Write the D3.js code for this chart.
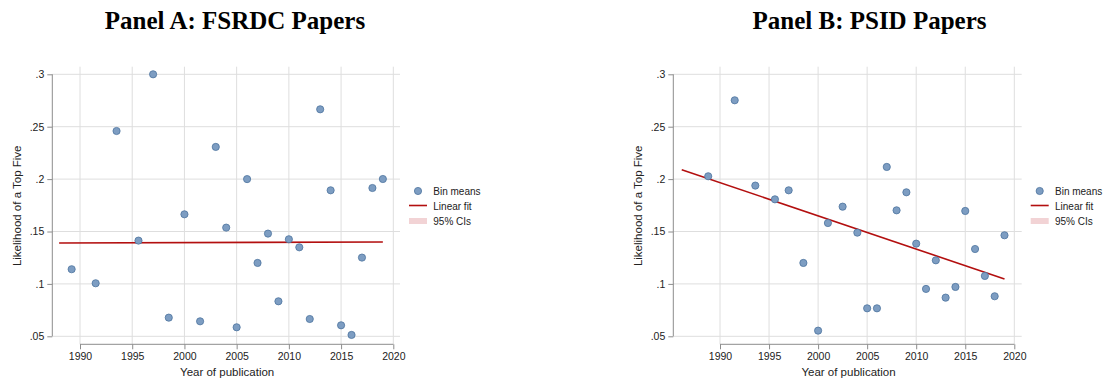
<!DOCTYPE html>
<html>
<head>
<meta charset="utf-8">
<script src="https://cdn.jsdelivr.net/npm/d3@7"></script>
<style>
  html, body { margin: 0; padding: 0; background: #fff; }
  svg { display: block; }
</style>
</head>
<body>
<svg id="chart" width="1104" height="380"></svg>
<script>
// Binned scatter of top-five publication likelihood by year, two panels.
const yearTicks = [1990, 1995, 2000, 2005, 2010, 2015, 2020];
const valueTicks = [0.05, 0.10, 0.15, 0.20, 0.25, 0.30];
const valueTickLabels = [".05", ".1", ".15", ".2", ".25", ".3"];

// Panel A: FSRDC papers
const yearsA = [1989.2, 1991.5, 1993.5, 1995.6, 1997.0, 1998.5, 2000.0, 2001.5, 2003.0, 2004.0,
                2005.0, 2006.0, 2007.0, 2008.0, 2009.0, 2010.0, 2011.0, 2012.0, 2013.0, 2014.0,
                2015.0, 2016.0, 2017.0, 2018.0, 2019.0];
const meansA = [0.114, 0.1006, 0.2459, 0.1413, 0.300, 0.0678, 0.1664, 0.0643, 0.2307, 0.1537,
                0.0586, 0.2000, 0.1200, 0.1480, 0.0834, 0.1426, 0.1349, 0.0665, 0.2666, 0.1893,
                0.0605, 0.0513, 0.1251, 0.1915, 0.2001];
const fitYearsA = [1988.0, 2019.0];
const fitValuesA = [0.1390, 0.1400];

// Panel B: PSID papers
const yearsB = [1988.8, 1991.5, 1993.6, 1995.6, 1997.0, 1998.5, 2000.0, 2001.0, 2002.5, 2004.0,
                2005.0, 2006.0, 2007.0, 2008.0, 2009.0, 2010.0, 2011.0, 2012.0, 2013.0, 2014.0,
                2015.0, 2016.0, 2017.0, 2018.0, 2019.0];
const meansB = [0.2027, 0.2752, 0.1938, 0.1807, 0.1893, 0.1200, 0.0554, 0.1581, 0.1737, 0.1489,
                0.0767, 0.0767, 0.2116, 0.1702, 0.1874, 0.1384, 0.0952, 0.1225, 0.0869, 0.0971,
                0.1696, 0.1333, 0.1076, 0.0882, 0.1464];
const fitYearsB = [1986.1, 2019.0];
const fitValuesB = [0.2090, 0.1047];

const legendLabels = ["Bin means", "Linear fit", "95% CIs"];

const panels = [
  { title: "Panel A: FSRDC Papers", years: yearsA, means: meansA, fitYears: fitYearsA, fitValues: fitValuesA,
    titleX: 235, axisX: 52.3, plotRight: 400, x1990: 80, x2020: 393.3, legendX: 409 },
  { title: "Panel B: PSID Papers", years: yearsB, means: meansB, fitYears: fitYearsB, fitValues: fitValuesB,
    titleX: 869.5, axisX: 673.3, plotRight: 1021.7, x1990: 720, x2020: 1014.3, legendX: 1030.7 }
];

const svg = d3.select("#chart");
const sans = "'Liberation Sans', Arial, Helvetica, sans-serif";
const plotTop = 66.7, xAxisY = 344.3;
const y = d3.scaleLinear().domain([0.05, 0.30]).range([336.3, 74.3]);

const gridColor = "#dedede", axisColor = "#8c8c8c";
const markerFill = "#7d9dc2", markerStroke = "#4c739e";
const fitColor = "#b30f0f", ciColor = "#f2d3d5";

panels.forEach(p => {
  const x = d3.scaleLinear().domain([1990, 2020]).range([p.x1990, p.x2020]);
  const g = svg.append("g");

  // title
  g.append("text")
    .attr("x", p.titleX).attr("y", 29)
    .attr("text-anchor", "middle")
    .attr("font-family", "'Liberation Serif', 'Times New Roman', serif")
    .attr("font-weight", "bold").attr("font-size", 25)
    .attr("fill", "#000")
    .text(p.title);

  // gridlines
  g.append("g").selectAll("line").data(valueTicks).join("line")
    .attr("x1", p.axisX).attr("x2", p.plotRight)
    .attr("y1", d => y(d)).attr("y2", d => y(d))
    .attr("stroke", gridColor).attr("stroke-width", 1);
  g.append("g").selectAll("line").data(yearTicks).join("line")
    .attr("x1", d => x(d)).attr("x2", d => x(d))
    .attr("y1", plotTop).attr("y2", xAxisY)
    .attr("stroke", gridColor).attr("stroke-width", 1);

  // y axis
  const yAxis = d3.axisLeft(y).tickValues(valueTicks)
    .tickFormat((d, i) => valueTickLabels[i]).tickSize(5).tickPadding(3);
  const ya = g.append("g").attr("transform", `translate(${p.axisX},0)`).call(yAxis);
  ya.select(".domain").attr("d", `M0,${y(0.30)}V${y(0.05)}`).attr("stroke", axisColor);
  ya.selectAll(".tick line").attr("stroke", axisColor);
  ya.selectAll(".tick text").attr("font-family", sans).attr("font-size", 10.5).attr("fill", "#222");

  // x axis
  const xAxis = d3.axisBottom(x).tickValues(yearTicks).tickFormat(d3.format("d")).tickSize(5).tickPadding(3);
  const xa = g.append("g").attr("transform", `translate(0,${xAxisY})`).call(xAxis);
  xa.select(".domain").attr("d", `M${x(1990)},0H${x(2020)}`).attr("stroke", axisColor);
  xa.selectAll(".tick line").attr("stroke", axisColor);
  xa.selectAll(".tick text").attr("font-family", sans).attr("font-size", 10.5).attr("fill", "#222");

  // axis titles
  g.append("text")
    .attr("x", (p.axisX + p.plotRight) / 2 + 1).attr("y", 376)
    .attr("text-anchor", "middle").attr("font-family", sans).attr("font-size", 11.5).attr("fill", "#222")
    .text("Year of publication");
  g.append("text")
    .attr("transform", `translate(${p.axisX - 31.5},${y(0.175) + 0.5}) rotate(-90)`)
    .attr("text-anchor", "middle").attr("font-family", sans).attr("font-size", 11.5).attr("fill", "#222")
    .text("Likelihood of a Top Five");

  // linear fit
  const fit = p.fitYears.map((yr, i) => [yr, p.fitValues[i]]);
  g.append("path")
    .datum(fit)
    .attr("d", d3.line().x(d => x(d[0])).y(d => y(d[1])))
    .attr("fill", "none").attr("stroke", fitColor).attr("stroke-width", 1.6);

  // bin means
  g.append("g").selectAll("circle").data(p.years.map((yr, i) => [yr, p.means[i]])).join("circle")
    .attr("cx", d => x(d[0])).attr("cy", d => y(d[1])).attr("r", 3.6)
    .attr("fill", markerFill).attr("stroke", markerStroke).attr("stroke-width", 0.8);

  // legend
  const lg = g.append("g").attr("transform", `translate(${p.legendX},0)`);
  lg.append("circle").attr("cx", 9).attr("cy", 191).attr("r", 3.6)
    .attr("fill", markerFill).attr("stroke", markerStroke).attr("stroke-width", 0.8);
  lg.append("line").attr("x1", 0).attr("x2", 18).attr("y1", 205.5).attr("y2", 205.5)
    .attr("stroke", fitColor).attr("stroke-width", 1.6);
  lg.append("rect").attr("x", 0).attr("y", 218).attr("width", 18).attr("height", 6).attr("fill", ciColor);
  lg.selectAll("text").data(legendLabels).join("text")
    .attr("x", 24.3).attr("y", (d, i) => 191 + i * 15 + 3.6)
    .attr("font-family", sans).attr("font-size", 10).attr("fill", "#222")
    .text(d => d);
});
</script>
</body>
</html>
